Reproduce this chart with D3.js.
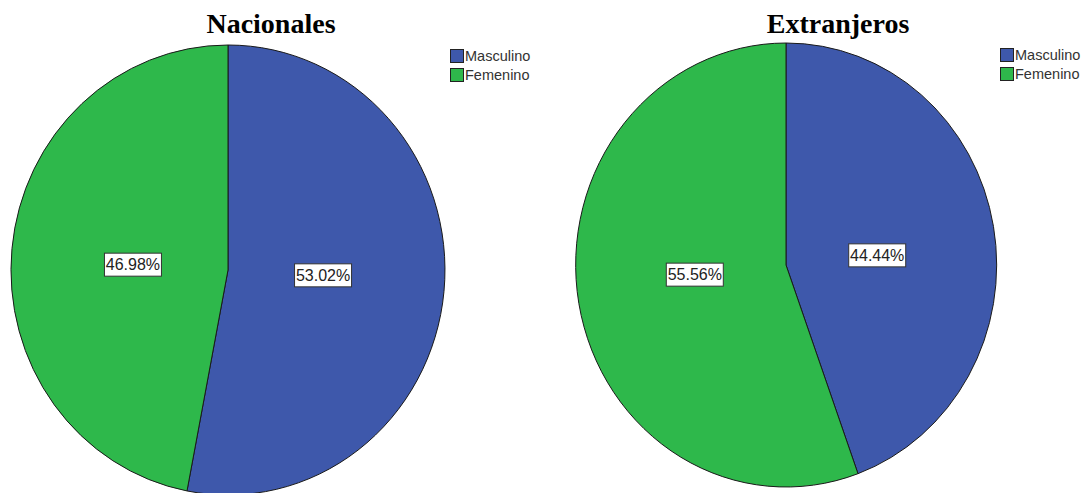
<!DOCTYPE html>
<html>
<head>
<meta charset="utf-8">
<script src="https://cdn.jsdelivr.net/npm/d3@7"></script>
<style>
  html, body { margin: 0; padding: 0; background: #fff; }
  svg { display: block; }
</style>
</head>
<body>
<svg id="chart" width="1081" height="493"></svg>
<script>
// Gender split, shown as percentages, for national and foreign visitors
const categories = ["Masculino", "Femenino"];
const groupTitles = ["Nacionales", "Extranjeros"];
const nacionales = [53.02, 46.98];
const extranjeros = [44.44, 55.56];
const sliceColors = ["#3e58ab", "#2eb84b"];

const svg = d3.select("#chart");
svg.append("rect").attr("width", 1081).attr("height", 493).attr("fill", "#fff");

const color = d3.scaleOrdinal().domain(categories).range(sliceColors);

// Each panel: pie centre, horizontal/vertical radii, title centre, legend corner
const panels = [
  { title: groupTitles[0], values: nacionales, cx: 228, cy: 270, rx: 217, ry: 225, tx: 271, lx: 450, ly: 49 },
  { title: groupTitles[1], values: extranjeros, cx: 786, cy: 265, rx: 210.5, ry: 222, tx: 838, lx: 1000, ly: 48 }
];

const pie = d3.pie().sort(null).value(d => d.value).startAngle(0).endAngle(2 * Math.PI);
const arc = d3.arc().innerRadius(0).outerRadius(1);

panels.forEach(p => {
  const data = categories.map((c, i) => ({ category: c, value: p.values[i] }));
  const arcs = pie(data);

  // Pie drawn on a unit circle and stretched into the panel's ellipse
  const g = svg.append("g")
    .attr("transform", `translate(${p.cx},${p.cy}) scale(${p.rx},${p.ry})`);
  g.selectAll("path")
    .data(arcs)
    .join("path")
    .attr("d", arc)
    .attr("fill", d => color(d.data.category))
    .attr("stroke", "#1a1a1a")
    .attr("stroke-width", 1)
    .attr("vector-effect", "non-scaling-stroke");

  // Percentage labels in white boxes
  const labels = svg.append("g");
  arcs.forEach(a => {
    const mid = (a.startAngle + a.endAngle) / 2;
    const x = p.cx + 0.44 * p.rx * Math.sin(mid);
    const y = p.cy - 0.25 * p.ry * Math.cos(mid);
    const lg = labels.append("g").attr("transform", `translate(${x},${y})`);
    const t = lg.append("text")
      .attr("text-anchor", "middle")
      .attr("dy", "0.36em")
      .attr("font-family", "Liberation Sans, Arial, sans-serif")
      .attr("font-size", 16)
      .attr("fill", "#222")
      .text(d3.format(".2f")(a.data.value) + "%");
    const bb = t.node().getBBox();
    lg.insert("rect", "text")
      .attr("x", Math.round(bb.x) - 1.5)
      .attr("y", -11.5)
      .attr("width", Math.round(bb.width) + 3)
      .attr("height", 23)
      .attr("fill", "#fff")
      .attr("stroke", "#333")
      .attr("stroke-width", 1);
  });

  // Title
  svg.append("text")
    .attr("x", p.tx)
    .attr("y", 33)
    .attr("text-anchor", "middle")
    .attr("font-family", "Liberation Serif, Times New Roman, serif")
    .attr("font-weight", "bold")
    .attr("font-size", 28)
    .attr("fill", "#000")
    .text(p.title);

  // Legend
  const legend = svg.append("g").attr("transform", `translate(${p.lx},${p.ly})`);
  categories.forEach((c, i) => {
    const row = legend.append("g").attr("transform", `translate(0,${i * 19})`);
    row.append("rect")
      .attr("x", 0.5).attr("y", 0.5)
      .attr("width", 13).attr("height", 13)
      .attr("fill", color(c))
      .attr("stroke", "#222")
      .attr("stroke-width", 1);
    row.append("text")
      .attr("x", 15)
      .attr("y", 12)
      .attr("font-family", "Liberation Sans, Arial, sans-serif")
      .attr("font-size", 14.5)
      .attr("fill", "#333")
      .text(c);
  });
});
</script>
</body>
</html>
